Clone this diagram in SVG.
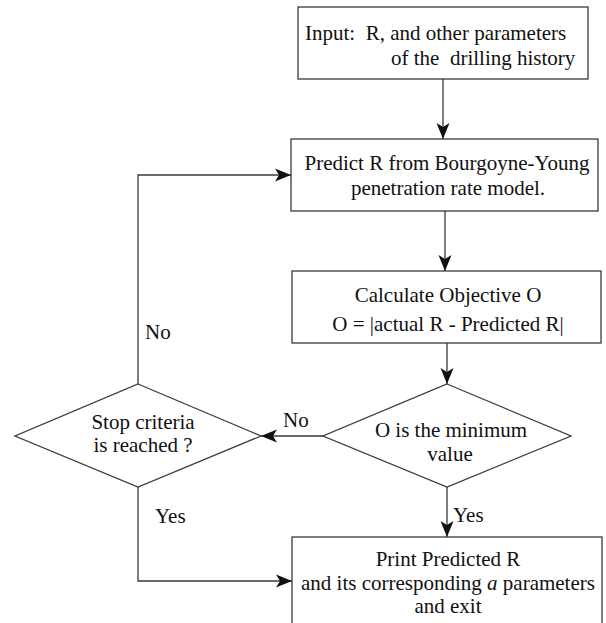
<svg xmlns="http://www.w3.org/2000/svg" width="606" height="623" viewBox="0 0 606 623">
<style>
.box{fill:#fff;stroke:#3a3a3a;stroke-width:1.3}
.ln{fill:none;stroke:#3a3a3a;stroke-width:1.3}
.t{font-family:'Liberation Serif','Times New Roman',serif;font-size:21px;fill:#111}
.c{text-anchor:middle}
</style>
<defs>
<marker id="ah" viewBox="-17 -7 18 14" refX="0" refY="0" markerWidth="18" markerHeight="14" markerUnits="userSpaceOnUse" orient="auto">
<path d="M0,0 L-16,-6.5 L-12,0 L-16,6.5 Z" fill="#111"/>
</marker>
</defs>
<rect width="606" height="623" fill="#fff"/>
<g id="connectors">
<line class="ln" x1="443" y1="79" x2="443" y2="139" marker-end="url(#ah)"/>
<line class="ln" x1="445" y1="211" x2="445" y2="271" marker-end="url(#ah)"/>
<line class="ln" x1="447" y1="343" x2="447" y2="384" marker-end="url(#ah)"/>
<line class="ln" x1="323" y1="436" x2="261" y2="436" marker-end="url(#ah)"/>
<line class="ln" x1="447" y1="487" x2="447" y2="537" marker-end="url(#ah)"/>
<polyline class="ln" points="138,487 138,581 292,581" marker-end="url(#ah)"/>
<polyline class="ln" points="138,384 138,175 291,175" marker-end="url(#ah)"/>
<g class="t">
<text x="283" y="427">No</text>
<text x="145" y="339">No</text>
<text x="155" y="523">Yes</text>
<text x="453" y="522">Yes</text>
</g>
</g>
<g id="input">
<rect class="box" x="298" y="7" width="290" height="72"/>
<g class="t">
<text x="305" y="40" xml:space="preserve">Input:  R, and other parameters</text>
<text x="391" y="65" xml:space="preserve">of the  drilling history</text>
</g>
</g>
<g id="predict">
<rect class="box" x="291" y="139" width="307" height="72"/>
<g class="t c">
<text x="447" y="170">Predict R from Bourgoyne-Young</text>
<text x="448" y="195">penetration rate model.</text>
</g>
</g>
<g id="objective">
<rect class="box" x="292" y="271" width="309" height="72"/>
<g class="t c">
<text x="448" y="302">Calculate Objective O</text>
<text x="448" y="331">O = |actual R - Predicted R|</text>
</g>
</g>
<g id="minimum">
<polygon class="box" points="447,384 571,436 447,487 323,436"/>
<g class="t c">
<text x="451" y="437">O is the minimum</text>
<text x="450" y="461">value</text>
</g>
</g>
<g id="stop">
<polygon class="box" points="138,384 261,436 138,487 15,436"/>
<g class="t c">
<text x="143" y="429">Stop criteria</text>
<text x="143" y="452">is reached ?</text>
</g>
</g>
<g id="print">
<rect class="box" x="292" y="537" width="310" height="95"/>
<g class="t c">
<text x="448" y="566">Print Predicted R</text>
<text x="448" y="590">and its corresponding <tspan font-style="italic">a</tspan> parameters</text>
<text x="448" y="613">and exit</text>
</g>
</g>
</svg>
